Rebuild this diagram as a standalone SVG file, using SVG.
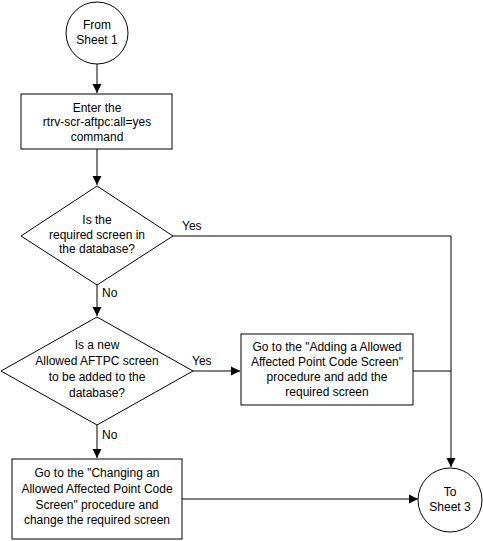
<svg xmlns="http://www.w3.org/2000/svg" width="483" height="541" viewBox="0 0 483 541">
<style>
.s{fill:#fff;stroke:#000;stroke-width:1}
.c{fill:none;stroke:#000;stroke-width:1}
text{font-family:"Liberation Sans",Arial,sans-serif;font-size:12px;fill:#000}
.m{text-anchor:middle}
</style>
<defs>
<marker id="a" markerWidth="10" markerHeight="10" refX="9" refY="5" orient="auto" markerUnits="userSpaceOnUse">
<path d="M0,0.5 L9,5 L0,9.5 Z" fill="#000"/>
</marker>
</defs>
<rect width="483" height="541" fill="#fff"/>
<g id="connectors">
<path class="c" d="M97,64 V93" marker-end="url(#a)"/>
<path class="c" d="M97,149 V185" marker-end="url(#a)"/>
<path class="c" d="M97,285 V316" marker-end="url(#a)"/>
<path class="c" d="M97,425 V458" marker-end="url(#a)"/>
<path class="c" d="M173,236 H451 V467" marker-end="url(#a)"/>
<path class="c" d="M193,371 H240" marker-end="url(#a)"/>
<path class="c" d="M413,371 H451"/>
<path class="c" d="M182,499 H418" marker-end="url(#a)"/>
<text x="182" y="230">Yes</text>
<text x="102" y="297">No</text>
<text x="192" y="365">Yes</text>
<text x="102" y="439">No</text>
</g>
<g id="from-sheet-1">
<circle class="s" cx="97" cy="33" r="31"/>
<text class="m" x="97" y="29">From</text>
<text class="m" x="97" y="44">Sheet 1</text>
</g>
<g id="enter-command">
<rect class="s" x="21" y="94" width="151" height="55"/>
<text class="m" x="97" y="112">Enter the</text>
<text class="m" x="97" y="126">rtrv-scr-aftpc:all=yes</text>
<text class="m" x="97" y="141">command</text>
</g>
<g id="decision-1">
<polygon class="s" points="97,186 173,236 97,285 21,236"/>
<text class="m" x="97" y="224">Is the</text>
<text class="m" x="97" y="239">required screen in</text>
<text class="m" x="97" y="253">the database?</text>
</g>
<g id="decision-2">
<polygon class="s" points="97,317 193,371 97,425 1,371"/>
<text class="m" x="97" y="349">Is a new</text>
<text class="m" x="97" y="365">Allowed AFTPC screen</text>
<text class="m" x="97" y="381">to be added to the</text>
<text class="m" x="97" y="397">database?</text>
</g>
<g id="adding-procedure">
<rect class="s" x="241" y="334" width="172" height="71"/>
<text class="m" x="327" y="351">Go to the "Adding a Allowed</text>
<text class="m" x="327" y="366">Affected Point Code Screen"</text>
<text class="m" x="327" y="381">procedure and add the</text>
<text class="m" x="327" y="396">required screen</text>
</g>
<g id="changing-procedure">
<rect class="s" x="12" y="459" width="170" height="80"/>
<text class="m" x="97" y="477">Go to the "Changing an</text>
<text class="m" x="97" y="493">Allowed Affected Point Code</text>
<text class="m" x="97" y="509">Screen" procedure and</text>
<text class="m" x="97" y="524">change the required screen</text>
</g>
<g id="to-sheet-3">
<circle class="s" cx="450" cy="500" r="32"/>
<text class="m" x="450" y="496">To</text>
<text class="m" x="450" y="511">Sheet 3</text>
</g>
</svg>
